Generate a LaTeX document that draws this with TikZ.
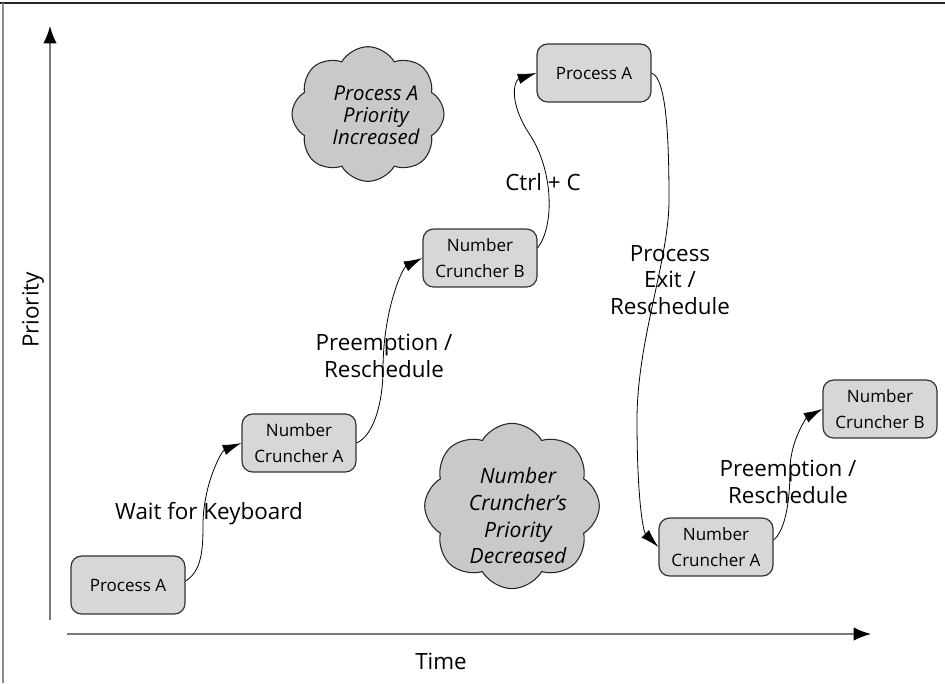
\documentclass[tikz,border=0pt]{standalone}
\usepackage{fontspec}
\setmainfont{Open Sans}
\usetikzlibrary{arrows.meta,shapes.symbols,calc}
\definecolor{boxfill}{HTML}{D6D7D9}
\definecolor{cloudfill}{HTML}{C9C9CA}
\definecolor{axisgray}{HTML}{7A7A7A}
\definecolor{framegray}{HTML}{8A8A8A}
\begin{document}
\begin{tikzpicture}[x=0.75pt,y=-0.75pt,
  stepbox/.style={draw=black!80, line width=0.9pt, fill=boxfill, rounded corners=8pt,
    minimum width=85.5pt, minimum height=43.5pt, align=center,
    font=\fontsize{12.8}{19}\selectfont, inner sep=2pt},
  conn/.style={line width=0.6pt, -{Latex[length=14pt,width=8pt]}},
  lbl/.style={font=\fontsize{16.8}{20}\selectfont, align=center, inner sep=0pt},
  cloudbox/.style={cloud, cloud puffs=8, cloud puff arc=120, cloud ignores aspect,
    draw=black!85, line width=0.8pt, fill=cloudfill, inner sep=0pt},
  cloudtxt/.style={align=center, inner sep=0pt},
  axis/.style={draw=axisgray, line width=1.1pt, -{Latex[length=13pt,width=10pt,color=black]}}]

\useasboundingbox (0,0) rectangle (945,683);

% frame
\draw[line width=1.5pt, black!85] (0,3) -- (945,3);
\draw[line width=1.5pt, framegray] (3,3) -- (3,683);

% axes
\coordinate (yo) at (50,620);
\coordinate (ytip) at (50,26);
\coordinate (xo) at (67,634);
\coordinate (xtip) at (871,634);
\draw[axis] (yo) -- (ytip);
\draw[axis] (xo) -- (xtip);
\node[lbl, rotate=90] (ylab) at (33,310) {Priority};
\node[lbl] (xlab) at (441,661) {Time};

% clouds
\node[cloudbox, minimum width=114pt, minimum height=101pt] (cl1) at (368,114) {};
\node[cloudtxt, font=\fontsize{15.3}{16.5}\selectfont\itshape] (cl1t) at (376,115) {Process A\\Priority\\Increased};
\node[cloudbox, minimum width=131pt, minimum height=124pt] (cl2) at (512,506) {};
\node[cloudtxt, font=\fontsize{15.8}{20}\selectfont\itshape] (cl2t) at (518,516) {Number\\Cruncher’s\\Priority\\Decreased};

% boxes
\node[stepbox] (pa1)  at (128,585) {Process A};
\node[stepbox] (nca1) at (299,443) {Number\\Cruncher A};
\node[stepbox] (ncb1) at (480,258) {Number\\Cruncher B};
\node[stepbox] (pa2)  at (594,73)  {Process A};
\node[stepbox] (nca2) at (716,547) {Number\\Cruncher A};
\node[stepbox] (ncb2) at (880,409) {Number\\Cruncher B};

% connectors
\draw[conn] ($(pa1.east)+(0,-4)$) .. controls +(16,-10) and +(0,25) .. (203,525)
   .. controls +(0,-40) and +(-20,8) .. (nca1.west);
\draw[conn] (nca1.east) .. controls +(18,-8) and +(0,30) .. (383,370)
   .. controls +(0,-60) and +(-20,10) .. (ncb1.west);
\draw[conn] ($(ncb1.east)+(0,-10)$) .. controls (555,225) and (553,170) .. (530,135)
   .. controls (507,100) and (515,80) .. (pa2.west);
\draw[conn] (pa2.east) .. controls +(15,5) and +(0,-60) .. (669,200)
   .. controls +(0,60) and +(0,-80) .. (637,420)
   .. controls +(0,80) and +(-15,-15) .. (nca2.west);
\draw[conn] ($(nca2.east)+(0,-7)$) .. controls +(12,-10) and +(0,30) .. (790,470)
   .. controls +(0,-30) and +(-15,8) .. (ncb2.west);

% labels
\node[lbl] (l1) at (209,514) {Wait for Keyboard};
\node[lbl] (l2) at (384,356) {Preemption /\\Reschedule};
\node[lbl] (l3) at (543,182) {Ctrl + C};
\node[lbl] (l4) at (670,280) {Process\\Exit /\\Reschedule};
\node[lbl] (l5) at (788,482) {Preemption /\\Reschedule};
\end{tikzpicture}
\end{document}
